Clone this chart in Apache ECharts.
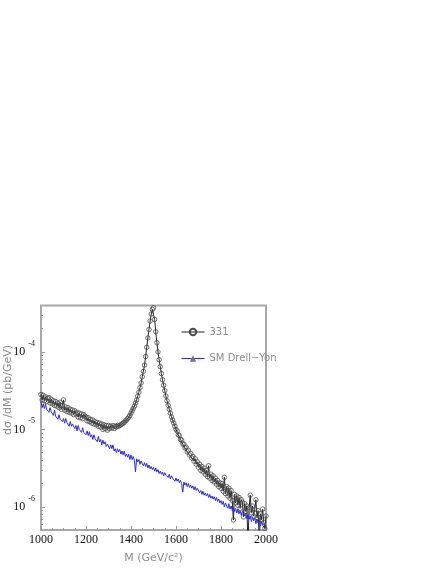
<!DOCTYPE html>
<html>
<head>
<meta charset="utf-8">
<title>331 vs SM Drell-Yan</title>
<script src="https://cdn.jsdelivr.net/npm/echarts@6/dist/echarts.min.js"></script>
<style>
    html, body { margin: 0; padding: 0; background: #fff; }
    #chart { width: 442px; height: 572px; }
</style>
</head>
<body>
<div id="chart"></div>
<script>
    // invariant mass bins, GeV/c^2 (5 GeV steps)
    const massStart = 1000;
    const massStep = 5;

    // log10 of dσ/dM (pb/GeV), 331 model
    const log331 = [
        -4.55, -4.62, -4.56, -4.63, -4.58, -4.64, -4.60, -4.59, -4.66, -4.61,
        -4.67, -4.63, -4.69, -4.64, -4.70, -4.66, -4.72, -4.65, -4.74, -4.69,
        -4.62, -4.75, -4.71, -4.77, -4.72, -4.78, -4.74, -4.79, -4.75, -4.81,
        -4.76, -4.80, -4.78, -4.84, -4.79, -4.85, -4.80, -4.86, -4.81, -4.83,
        -4.84, -4.89, -4.85, -4.90, -4.87, -4.92, -4.88, -4.93, -4.90, -4.94,
        -4.91, -4.96, -4.92, -4.97, -4.93, -5.00, -4.94, -4.99, -4.95, -5.01,
        -4.95, -4.99, -4.96, -4.98, -4.95, -4.99, -4.96, -4.97, -4.95, -4.96,
        -4.95, -4.94, -4.93, -4.92, -4.91, -4.89, -4.88, -4.86, -4.84, -4.82,
        -4.79, -4.76, -4.73, -4.70, -4.66, -4.62, -4.57, -4.52, -4.46, -4.40,
        -4.32, -4.25, -4.17, -4.06, -3.94, -3.82, -3.71, -3.60, -3.51, -3.45,
        -3.43, -3.58, -3.74, -3.88, -4.00, -4.10, -4.19, -4.28, -4.36, -4.43,
        -4.50, -4.57, -4.63, -4.69, -4.74, -4.79, -4.84, -4.88, -4.92, -4.96,
        -5.00, -5.02, -5.07, -5.08, -5.13, -5.14, -5.19, -5.19, -5.24, -5.23,
        -5.29, -5.27, -5.33, -5.31, -5.37, -5.35, -5.41, -5.38, -5.45, -5.42,
        -5.49, -5.45, -5.53, -5.48, -5.55, -5.50, -5.58, -5.53, -5.61, -5.47,
        -5.63, -5.58, -5.66, -5.60, -5.68, -5.63, -5.71, -5.66, -5.74, -5.69,
        -5.76, -5.70, -5.80, -5.62, -5.83, -5.74, -5.86, -5.76, -5.89, -5.79,
        -5.92, -6.17, -5.84, -5.95, -5.86, -5.98, -5.88, -6.02, -5.91, -5.94,
        -6.13, -5.96, -6.06, -5.99, -6.50, -6.01, -5.85, -6.08, -5.99, -6.12,
        -6.03, -5.91, -6.14, -6.05, -6.45, -6.09, -6.17, -6.03, -6.20, -6.28,
        -6.12
    ];

    // log10 of dσ/dM (pb/GeV), SM Drell-Yan
    const logSM = [
        -4.64, -4.72, -4.67, -4.73, -4.67, -4.74, -4.72, -4.78, -4.72, -4.77,
        -4.75, -4.82, -4.75, -4.83, -4.82, -4.87, -4.81, -4.87, -4.85, -4.90,
        -4.86, -4.92, -4.86, -4.91, -4.89, -4.96, -4.90, -4.96, -4.93, -4.92,
        -4.99, -4.95, -5.02, -4.95, -5.00, -4.98, -5.04, -4.98, -5.04, -5.02,
        -5.07, -5.02, -5.08, -5.03, -5.10, -5.07, -5.13, -5.07, -5.12, -5.10,
        -5.16, -5.09, -5.16, -5.13, -5.20, -5.14, -5.19, -5.16, -5.22, -5.19,
        -5.19, -5.25, -5.20, -5.25, -5.20, -5.28, -5.25, -5.30, -5.25, -5.29,
        -5.26, -5.32, -5.28, -5.33, -5.28, -5.35, -5.32, -5.36, -5.32, -5.39,
        -5.33, -5.39, -5.35, -5.40, -5.55, -5.38, -5.42, -5.39, -5.45, -5.41,
        -5.44, -5.47, -5.43, -5.48, -5.44, -5.50, -5.46, -5.51, -5.48, -5.52,
        -5.49, -5.54, -5.50, -5.55, -5.52, -5.57, -5.54, -5.58, -5.55, -5.60,
        -5.56, -5.59, -5.57, -5.62, -5.58, -5.64, -5.60, -5.63, -5.61, -5.67,
        -5.63, -5.67, -5.64, -5.69, -5.66, -5.70, -5.81, -5.68, -5.72, -5.69,
        -5.74, -5.70, -5.75, -5.72, -5.76, -5.73, -5.78, -5.74, -5.79, -5.76,
        -5.78, -5.82, -5.79, -5.84, -5.80, -5.85, -5.82, -5.86, -5.83, -5.88,
        -5.84, -5.89, -5.86, -5.90, -5.87, -5.92, -5.88, -5.93, -5.90, -5.95,
        -5.92, -5.97, -5.93, -6.00, -5.95, -5.99, -6.02, -5.96, -6.03, -5.99,
        -6.05, -6.00, -6.06, -6.02, -6.08, -6.03, -6.09, -6.05, -6.11, -6.06,
        -6.07, -6.12, -6.08, -6.15, -6.10, -6.16, -6.12, -6.19, -6.13, -6.18,
        -6.15, -6.22, -6.16, -6.21, -6.18, -6.25, -6.19, -6.24, -6.22, -6.28,
        -6.24
    ];

    const xTicks = [1000, 1200, 1400, 1600, 1800, 2000];
    const decades = [-6, -5, -4];
    const minorMantissa = [2, 3, 4, 5, 6, 7, 8, 9];
    const seriesNames = ['331', 'SM Drell\u2212Yon'];

    function toPairs(logs) {
        return logs.map(function (v, i) { return [massStart + i * massStep, v]; });
    }

    // minor tick positions of a log axis (2..9 x 10^n)
    const minorTicks = [];
    [-7, -6, -5, -4].forEach(function (d) {
        minorMantissa.forEach(function (m) { minorTicks.push(d + Math.log10(m)); });
    });

    const yMin = -6.3, yMax = -3.4;
    const greyFont = { fontFamily: 'DejaVu Sans', fontSize: 11, color: '#8c8c8c' };

    const myChart = echarts.init(document.getElementById('chart'));
    const option = {
        animation: false,
        backgroundColor: '#fff',
        grid: {
            left: 41, right: 176, top: 305.5, bottom: 42,
            show: true, borderColor: '#a8a8a8', borderWidth: 2, backgroundColor: 'transparent'
        },
        legend: {
            orient: 'vertical',
            left: 176, top: 322,
            itemWidth: 23, itemHeight: 8, itemGap: 16.5,
            textStyle: { fontFamily: 'DejaVu Sans', fontSize: 10, color: '#8c8c8c' },
            data: [
                { name: seriesNames[0], lineStyle: { width: 1 } },
                { name: seriesNames[1], lineStyle: { width: 1 }, itemStyle: { color: '#777' } }
            ]
        },
        xAxis: {
            type: 'value',
            min: 1000, max: 2000, interval: 200,
            name: 'M (GeV/c\u00b2)',
            nameLocation: 'middle', nameGap: 23,
            nameTextStyle: greyFont,
            axisLine: { show: false },
            axisTick: { inside: true, length: 4, lineStyle: { color: '#999' } },
            minorTick: { show: true, splitNumber: 4, length: 2, lineStyle: { color: '#999' } },
            splitLine: { show: false },
            axisLabel: {
                margin: 4, fontFamily: 'Liberation Serif', fontSize: 12, color: '#111',
                customValues: xTicks,
                formatter: function (v) { return String(v); }
            }
        },
        yAxis: [{
            type: 'value',
            min: yMin, max: yMax,
            axisLine: { show: false },
            splitLine: { show: false },
            axisTick: { inside: true, length: 4, lineStyle: { color: '#999' }, customValues: decades },
            axisLabel: {
                margin: 6,
                customValues: decades,
                formatter: function (v) { return '{b|10}{e|' + Math.round(v) + '}'; },
                rich: {
                    b: { fontFamily: 'Liberation Serif', fontSize: 12, color: '#111' },
                    e: { fontFamily: 'Liberation Serif', fontSize: 8, color: '#111', padding: [0, 0, 16, 3] }
                }
            }
        }, {
            type: 'value',
            min: yMin, max: yMax,
            position: 'left',
            axisLine: { show: false },
            splitLine: { show: false },
            axisLabel: { show: false },
            axisTick: { inside: true, length: 2, lineStyle: { color: '#999' }, customValues: minorTicks }
        }],
        graphic: [{
            type: 'text',
            x: 8, y: 390,
            rotation: Math.PI / 2,
            style: {
                text: 'd\u03c3 /dM (pb/GeV)',
                font: '11px "DejaVu Sans"',
                fill: '#8c8c8c',
                align: 'center',
                verticalAlign: 'middle'
            }
        }],
        series: [{
            name: seriesNames[0],
            type: 'line',
            data: toPairs(log331),
            symbol: 'circle',
            symbolSize: 4.5,
            showAllSymbol: true,
            lineStyle: { color: '#222', width: 1 },
            itemStyle: { color: 'rgba(255,255,255,0)', borderColor: '#4a4a4a', borderWidth: 0.8 },
            z: 2
        }, {
            name: seriesNames[1],
            type: 'line',
            data: toPairs(logSM),
            symbol: 'triangle',
            showSymbol: false,
            lineStyle: { color: '#2a2ad8', width: 1 },
            itemStyle: { color: '#2a2ad8' },
            z: 3
        }]
    };
    myChart.setOption(option);
</script>
</body>
</html>
